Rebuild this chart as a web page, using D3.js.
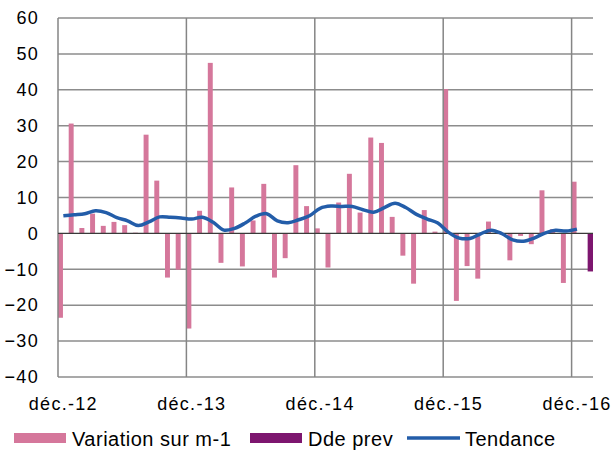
<!DOCTYPE html>
<html>
<head>
<meta charset="utf-8">
<script src="https://cdn.jsdelivr.net/npm/d3@7"></script>
<style>
  body { margin: 0; background: #fff; }
  svg { display: block; font-family: "Liberation Sans", Arial, sans-serif; }
</style>
</head>
<body>
<svg id="chart"></svg>
<script>
// months on the category axis (last one only carries the "Dde prev" bar)
const months = [
  "déc.-12",
  "janv.-13","févr.-13","mars-13","avr.-13","mai-13","juin-13","juil.-13","août-13","sept.-13","oct.-13","nov.-13","déc.-13",
  "janv.-14","févr.-14","mars-14","avr.-14","mai-14","juin-14","juil.-14","août-14","sept.-14","oct.-14","nov.-14","déc.-14",
  "janv.-15","févr.-15","mars-15","avr.-15","mai-15","juin-15","juil.-15","août-15","sept.-15","oct.-15","nov.-15","déc.-15",
  "janv.-16","févr.-16","mars-16","avr.-16","mai-16","juin-16","juil.-16","août-16","sept.-16","oct.-16","nov.-16","déc.-16",
  "janv.-17"
];

// labelled months (december of each year)
const tickMonths = ["déc.-12", "déc.-13", "déc.-14", "déc.-15", "déc.-16"];

const yTicks = [-40, -30, -20, -10, 0, 10, 20, 30, 40, 50, 60];

// Variation sur m-1
const variation = [
  -23.5,
  30.6, 1.5, 5.5, 2.1, 3.2, 2.3, 0.2, 27.5, 14.7, -12.3, -10.1, -26.5,
  6.3, 47.5, -8.2, 12.8, -9.2, 3.6, 13.8, -12.3, -6.9, 19.0, 7.6, 1.4,
  -9.5, 8.6, 16.6, 5.8, 26.7, 25.2, 4.6, -6.2, -14.0, 6.5, 0.5, 40.2,
  -18.8, -9.1, -12.6, 3.3, -0.2, -7.5, -0.7, -3.0, 12.0, 1.2, -13.8, 14.4,
  null
];

// Dde prev (forecast, only the last month)
const ddePrev = [
  null,
  null, null, null, null, null, null, null, null, null, null, null, null,
  null, null, null, null, null, null, null, null, null, null, null, null,
  null, null, null, null, null, null, null, null, null, null, null, null,
  null, null, null, null, null, null, null, null, null, null, null, null,
  -10.6
];

// Tendance
const tendance = [
  4.9,
  5.2, 5.5, 6.3, 5.8, 4.4, 3.5, 2.2, 3.2, 4.6, 4.5, 4.3, 4.0,
  4.5, 3.1, 0.9, 1.4, 2.9, 4.8, 5.5, 3.5, 3.0, 3.8, 4.9, 7.0,
  7.6, 7.5, 7.5, 6.6, 5.9, 7.2, 8.4, 7.2, 5.3, 4.0, 2.9, 0.3,
  -1.3, -1.4, -0.1, 0.9, -0.1, -1.8, -2.2, -1.3, 0.1, 0.85, 0.65, 1.2,
  null
];

const seriesNames = ["Variation sur m-1", "Dde prev", "Tendance"];

class TrendChart {

  constructor(_config) {
    this.config = {
      parentElement: _config.parentElement,
      containerWidth: _config.containerWidth || 616,
      containerHeight: _config.containerHeight || 450,
      margin: { top: 18, bottom: 73, right: 23, left: 58 }
    }
    this.colors = { variation: "#d5779b", dde: "#7d166f", tendance: "#235da9" };
    this.initVis();
  }

  initVis() {
    let vis = this;
    vis.width = vis.config.containerWidth - vis.config.margin.left - vis.config.margin.right;
    vis.height = vis.config.containerHeight - vis.config.margin.top - vis.config.margin.bottom;

    vis.xScale = d3.scaleBand()
        .domain(months)
        .range([0, vis.width])
        .padding(0);

    // two bar slots per month, like a clustered column chart
    vis.xSub = d3.scaleBand()
        .domain(["variation", "dde"])
        .range([0, vis.xScale.bandwidth()])
        .padding(0);

    vis.yScale = d3.scaleLinear()
        .domain([-40, 60])
        .range([vis.height, 0]);

    vis.svg = d3.select(vis.config.parentElement)
        .attr('width', vis.config.containerWidth)
        .attr('height', vis.config.containerHeight);

    vis.chart = vis.svg.append('g')
        .attr('transform', `translate(${vis.config.margin.left},${vis.config.margin.top})`);

    vis.line = d3.line()
        .defined(d => d.v != null)
        .x(d => vis.xScale(d.m) + vis.xScale.bandwidth() / 2)
        .y(d => vis.yScale(d.v))
        .curve(d3.curveCatmullRom.alpha(0.5));

    vis.renderVis();
  }

  renderVis() {
    let vis = this;

    // horizontal gridlines
    vis.chart.append('g')
      .selectAll('line')
      .data(yTicks.filter(d => d !== 0))
      .join('line')
        .attr('x1', 0)
        .attr('x2', vis.width)
        .attr('y1', d => vis.yScale(d))
        .attr('y2', d => vis.yScale(d))
        .attr('stroke', '#8c8c8c')
        .attr('stroke-width', 1.5);

    // bars
    vis.chart.append('g')
      .selectAll('rect')
      .data(months.map((m, i) => ({ m, v: variation[i] })).filter(d => d.v != null))
      .join('rect')
        .attr('x', d => vis.xScale(d.m) + vis.xSub('variation'))
        .attr('width', vis.xSub.bandwidth() - 0.4)
        .attr('y', d => vis.yScale(Math.max(0, d.v)))
        .attr('height', d => Math.abs(vis.yScale(d.v) - vis.yScale(0)))
        .attr('fill', vis.colors.variation);

    vis.chart.append('g')
      .selectAll('rect')
      .data(months.map((m, i) => ({ m, v: ddePrev[i] })).filter(d => d.v != null))
      .join('rect')
        .attr('x', d => vis.xScale(d.m) + vis.xSub('dde'))
        .attr('width', vis.xSub.bandwidth())
        .attr('y', d => vis.yScale(Math.max(0, d.v)))
        .attr('height', d => Math.abs(vis.yScale(d.v) - vis.yScale(0)))
        .attr('fill', vis.colors.dde);

    // vertical gridlines at each december
    vis.chart.append('g')
      .selectAll('line')
      .data(tickMonths)
      .join('line')
        .attr('x1', d => vis.xScale(d))
        .attr('x2', d => vis.xScale(d))
        .attr('y1', 0)
        .attr('y2', vis.height)
        .attr('stroke', '#858585')
        .attr('stroke-width', 1.5);

    // zero line
    vis.chart.append('line')
      .attr('x1', 0)
      .attr('x2', vis.width)
      .attr('y1', vis.yScale(0))
      .attr('y2', vis.yScale(0))
      .attr('stroke', '#3a3a3a')
      .attr('stroke-width', 1.2);

    // trend line
    vis.chart.append('path')
      .attr('d', vis.line(months.map((m, i) => ({ m, v: tendance[i] }))))
      .attr('fill', 'none')
      .attr('stroke', vis.colors.tendance)
      .attr('stroke-width', 3.5)
      .attr('stroke-linejoin', 'round');

    // axes
    let yAxis = vis.chart.append('g')
      .call(d3.axisLeft(vis.yScale).tickValues(yTicks).tickSize(0).tickPadding(19).tickFormat(d3.format('d')));
    yAxis.select('.domain').remove();

    let xAxis = vis.chart.append('g')
      .attr('transform', `translate(0,${vis.height})`)
      .call(d3.axisBottom(vis.xScale).tickValues(tickMonths).tickSize(0).tickPadding(20));
    xAxis.select('.domain').remove();

    vis.svg.selectAll('.tick text')
      .attr('font-family', '"Liberation Sans", Arial, sans-serif')
      .attr('font-size', 18)
      .attr('letter-spacing', '1.3px')
      .attr('fill', '#000');

    // legend
    let legendX = [14, 250, 407];
    let legendKeys = ["variation", "dde", "tendance"];
    let legend = vis.svg.append('g')
      .selectAll('g')
      .data(seriesNames)
      .join('g')
        .attr('transform', (d, i) => `translate(${legendX[i]},438)`);

    legend.each(function(d, i) {
      let g = d3.select(this);
      if (legendKeys[i] === 'tendance') {
        g.append('line')
          .attr('x1', 0).attr('x2', 53)
          .attr('y1', 0).attr('y2', 0)
          .attr('stroke', vis.colors.tendance)
          .attr('stroke-width', 3.5);
      } else {
        g.append('rect')
          .attr('x', 0).attr('y', -5)
          .attr('width', 52).attr('height', 10)
          .attr('fill', vis.colors[legendKeys[i]]);
      }
      g.append('text')
        .attr('x', 58)
        .attr('y', 8)
        .attr('font-size', 20)
        .attr('letter-spacing', '0.5px')
        .attr('fill', '#000')
        .text(d);
    });
  }
}

new TrendChart({ parentElement: '#chart' });
</script>
</body>
</html>
